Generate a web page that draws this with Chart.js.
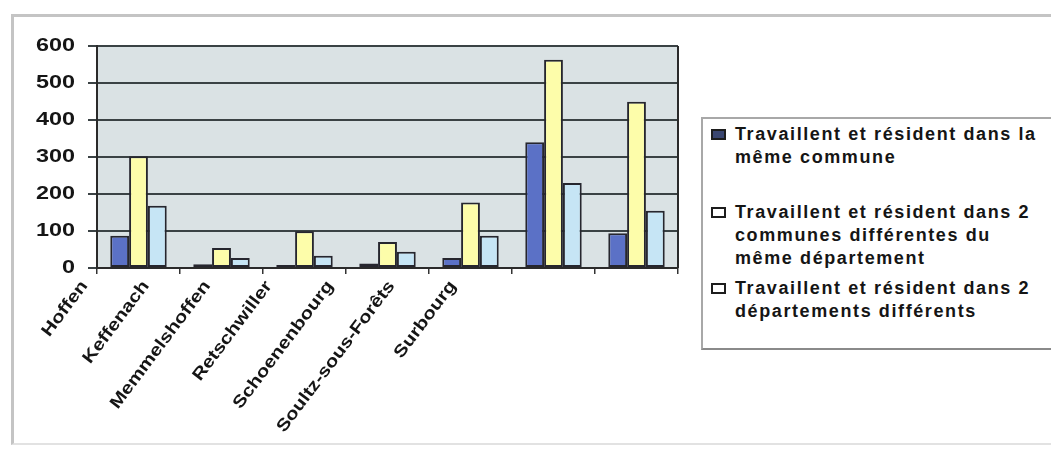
<!DOCTYPE html>
<html>
<head>
<meta charset="utf-8">
<script src="https://cdn.jsdelivr.net/npm/chart.js@4.4.0/dist/chart.umd.min.js"></script>
<style>
  body { margin: 0; background: #fff; }
  #wrap { position: relative; width: 1051px; height: 450px; overflow: hidden; background: #fff; }
  #frame { position: absolute; left: 11px; top: 14px; width: 1100px; height: 431px; border: 3px solid #c4c4c4;
           border-bottom: 2px solid #e2e2e2; box-sizing: border-box; }
  canvas { position: absolute; left: 0; top: 0; }
  #legend { position: absolute; left: 701px; top: 117px; width: 400px; height: 233px; border: 2px solid #a8a8a8;
            border-bottom-color: #8a8a8a; box-sizing: border-box; background: #fff;
            font: bold 18px "Liberation Sans", Arial, sans-serif; color: #151515; }
  .item { position: absolute; left: 32px; line-height: 23px; white-space: pre-line; letter-spacing: 1.6px; }
  .box { position: absolute; left: -24px; top: 6px; width: 11px; height: 7px; border: 2px solid #1d1d1d; }
</style>
</head>
<body>
<div id="wrap">
  <div id="frame"></div>
  <canvas id="chart" width="1051" height="450"></canvas>
  <div id="legend"></div>
</div>
<script>
// data
const towns = ['Hoffen', 'Keffenach', 'Memmelshoffen', 'Retschwiller', 'Schoenenbourg', 'Soultz-sous-Forêts', 'Surbourg'];
const sameCommune = [87, 10, 8, 12, 27, 340, 94];
const sameDepartement = [302, 54, 99, 70, 177, 563, 449];
const otherDepartement = [168, 27, 33, 44, 87, 230, 155];
const seriesNames = [
  'Travaillent et résident dans la\nmême commune',
  'Travaillent et résident dans 2\ncommunes différentes du\nmême département',
  'Travaillent et résident dans 2\ndépartements différents'
];
const yTicks = [0, 100, 200, 300, 400, 500, 600];

const colors = ['#5b71c6', '#fdfdaa', '#c6e5f5'];
const legendBoxFill = ['#3a4670', '#ffffff', '#ffffff'];
const legendTops = [4, 82, 158];
const textFont = '"Liberation Sans", Arial, sans-serif';

// grey plot background + dark frame on the right of the plot
const plotArea = {
  id: 'plotArea',
  beforeDraw(chart) {
    const { ctx, chartArea: a } = chart;
    ctx.save();
    ctx.fillStyle = '#dae2e4';
    ctx.fillRect(a.left, a.top, a.right - a.left, a.bottom - a.top);
    ctx.restore();
  },
  afterDraw(chart) {
    const { ctx, chartArea: a } = chart;
    ctx.save();
    ctx.strokeStyle = '#2a2a2a';
    ctx.lineWidth = 2;
    ctx.beginPath();
    ctx.moveTo(a.right, a.top);
    ctx.lineTo(a.right, a.bottom);
    ctx.stroke();
    ctx.restore();
  }
};

// tick text is stretched sideways in the scan, so draw it by hand
const stretchedLabels = {
  id: 'stretchedLabels',
  afterDraw(chart) {
    const { ctx, scales: { x, y } } = chart;
    ctx.save();
    ctx.fillStyle = '#151515';

    // y values
    ctx.font = 'bold 18px ' + textFont;
    ctx.textAlign = 'right';
    ctx.textBaseline = 'middle';
    yTicks.forEach(v => {
      ctx.save();
      ctx.translate(75, y.getPixelForValue(v));
      ctx.scale(1.3, 1);
      ctx.fillText(String(v), 0, 0);
      ctx.restore();
    });

    // slanted town names, packed tighter than the categories
    ctx.font = 'bold 17px ' + textFont;
    const first = x.getPixelForValue(0);
    towns.forEach((t, i) => {
      const px = x.getPixelForValue(i);
      ctx.save();
      ctx.translate(first - 54 + (px - first) * 0.74, x.top + 15);
      ctx.rotate(-53 * Math.PI / 180);
      ctx.scale(1.2, 1);
      ctx.fillText(t, 0, 0);
      ctx.restore();
    });
    ctx.restore();
  }
};

const chart = new Chart(document.getElementById('chart'), {
  type: 'bar',
  data: {
    labels: towns,
    datasets: [sameCommune, sameDepartement, otherDepartement].map((d, i) => ({
      label: seriesNames[i],
      data: d,
      backgroundColor: colors[i],
      borderColor: '#26262e',
      borderWidth: 2,
      borderSkipped: false,
      categoryPercentage: 0.68,
      barPercentage: 1
    }))
  },
  options: {
    responsive: false,
    animation: false,
    layout: { padding: { left: 12, right: 373, top: 46, bottom: 0 } },
    plugins: { legend: { display: false }, tooltip: { enabled: false } },
    scales: {
      x: {
        afterFit: s => { s.height = 182; },
        ticks: { display: false },
        grid: { drawOnChartArea: false, drawTicks: true, tickLength: 6, color: '#333', lineWidth: 1.5 },
        border: { display: true, color: '#2a2a2a', width: 2 }
      },
      y: {
        min: 0,
        max: 600,
        afterFit: s => { s.width = 85; },
        afterBuildTicks: s => { s.ticks = yTicks.map(v => ({ value: v })); },
        ticks: { display: false },
        grid: { color: '#3a4244', lineWidth: 2, tickLength: 9 },
        border: { display: true, color: '#2a2a2a', width: 2 }
      }
    }
  },
  plugins: [plotArea, stretchedLabels]
});

// legend drawn as html so the long names can wrap
const legend = document.getElementById('legend');
chart.data.datasets.forEach((ds, i) => {
  const item = document.createElement('div');
  item.className = 'item';
  item.style.top = legendTops[i] + 'px';
  item.textContent = ds.label;
  const box = document.createElement('span');
  box.className = 'box';
  box.style.background = legendBoxFill[i];
  item.appendChild(box);
  legend.appendChild(item);
});
</script>
</body>
</html>
